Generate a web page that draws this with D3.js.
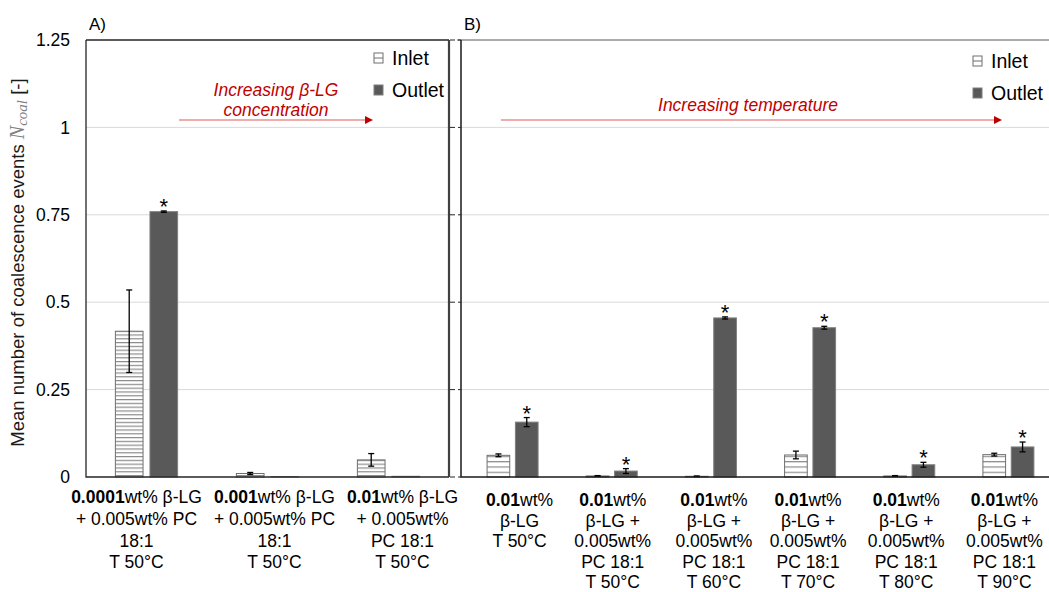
<!DOCTYPE html>
<html>
<head>
<meta charset="utf-8">
<script src="https://d3js.org/d3.v7.min.js"></script>
<style>
  html, body { margin: 0; padding: 0; background: #fff; }
  svg { display: block; font-family: "Liberation Sans", Arial, sans-serif; }
</style>
</head>
<body>
<svg id="chart" width="1049" height="592"></svg>
<script>
// ---- data ----
var series = ["Inlet", "Outlet"];

// panel A: increasing beta-LG concentration
var boldA = ["0.0001", "0.001", "0.01"];
var labelsA = [
  ["wt% β-LG", "+ 0.005wt% PC", "18:1", "T 50°C"],
  ["wt% β-LG", "+ 0.005wt% PC", "18:1", "T 50°C"],
  ["wt% β-LG", "+ 0.005wt%", "PC 18:1", "T 50°C"]
];
var inletA = [0.417, 0.010, 0.049];
var inletErrA = [0.118, 0.003, 0.018];
var outletA = [0.759, 0.001, 0.002];
var outletErrA = [0.002, 0, 0];
var starA = [true, false, false];

// panel B: increasing temperature
var boldB = ["0.01", "0.01", "0.01", "0.01", "0.01", "0.01"];
var labelsB = [
  ["wt%", "β-LG", "T 50°C"],
  ["wt%", "β-LG +", "0.005wt%", "PC 18:1", "T 50°C"],
  ["wt%", "β-LG +", "0.005wt%", "PC 18:1", "T 60°C"],
  ["wt%", "β-LG +", "0.005wt%", "PC 18:1", "T 70°C"],
  ["wt%", "β-LG +", "0.005wt%", "PC 18:1", "T 80°C"],
  ["wt%", "β-LG +", "0.005wt%", "PC 18:1", "T 90°C"]
];
var inletB = [0.062, 0.003, 0.002, 0.063, 0.003, 0.064];
var inletErrB = [0.004, 0.001, 0.001, 0.011, 0.001, 0.004];
var outletB = [0.157, 0.017, 0.455, 0.427, 0.035, 0.086];
var outletErrB = [0.013, 0.007, 0.003, 0.004, 0.007, 0.014];
var starB = [true, true, true, true, true, true];

var yTicks = [0, 0.25, 0.5, 0.75, 1, 1.25];

// ---- drawing ----
var svg = d3.select("#chart");
var plotTop = 40, plotBottom = 477;
var y = d3.scaleLinear().domain([0, 1.25]).range([plotBottom, plotTop]);
var outletFill = "#595959", red = "#c00000";

var defs = svg.append("defs");
function stripes(id, h) {
  var p = defs.append("pattern").attr("id", id)
    .attr("patternUnits", "userSpaceOnUse").attr("width", 10).attr("height", h);
  p.append("rect").attr("width", 10).attr("height", h).attr("fill", "#fff");
  p.append("line").attr("x1", 0).attr("x2", 10).attr("y1", 0.6).attr("y2", 0.6)
    .attr("stroke", "#8c8c8c").attr("stroke-width", 1.2);
}
stripes("hatchA", 3.8);
stripes("hatchB", 5.3);

function panel(opt) {
  var g = svg.append("g");
  var idx = d3.range(opt.inlet.length);
  var x = d3.scaleBand().domain(idx).range([opt.x0, opt.x1]);
  var xs = d3.scaleBand().domain(series).range([0, x.bandwidth()])
    .paddingInner(0.2).paddingOuter(0.85);

  // gridlines
  g.selectAll("line.grid").data(yTicks.filter(function(d) { return d > 0 && d < 1.25; }))
    .enter().append("line").attr("class", "grid")
    .attr("x1", opt.gx0).attr("x2", opt.x1)
    .attr("y1", function(d) { return y(d); }).attr("y2", function(d) { return y(d); })
    .attr("stroke", "#d9d9d9").attr("stroke-width", 1);

  var flat = [];
  idx.forEach(function(i) {
    flat.push({ i: i, s: "Inlet", v: opt.inlet[i], e: opt.inletErr[i], star: false });
    flat.push({ i: i, s: "Outlet", v: opt.outlet[i], e: opt.outletErr[i], star: opt.star[i] });
  });
  function cx(d) { return x(d.i) + xs(d.s) + xs.bandwidth() / 2; }

  g.selectAll("rect.bar").data(flat).enter().append("rect").attr("class", "bar")
    .attr("x", function(d) { return x(d.i) + xs(d.s); })
    .attr("width", xs.bandwidth())
    .attr("y", function(d) { return y(d.v); })
    .attr("height", function(d) { return y(0) - y(d.v); })
    .attr("fill", function(d) { return d.s === "Inlet" ? "url(#" + opt.hatch + ")" : outletFill; })
    .attr("stroke", function(d) { return d.s === "Inlet" ? "#6f6f6f" : "#7f7f7f"; })
    .attr("stroke-width", 1);

  // error bars
  var eb = g.selectAll("g.err").data(flat.filter(function(d) { return d.e > 0; }))
    .enter().append("g").attr("class", "err")
    .attr("stroke", "#000").attr("stroke-width", 1.3);
  eb.append("line")
    .attr("x1", cx).attr("x2", cx)
    .attr("y1", function(d) { return y(d.v - d.e); })
    .attr("y2", function(d) { return y(d.v + d.e); });
  [-1, 1].forEach(function(sign) {
    eb.append("line")
      .attr("x1", function(d) { return cx(d) - 3; })
      .attr("x2", function(d) { return cx(d) + 3; })
      .attr("y1", function(d) { return y(d.v + sign * d.e); })
      .attr("y2", function(d) { return y(d.v + sign * d.e); });
  });

  // significance stars
  g.selectAll("text.star").data(flat.filter(function(d) { return d.star; }))
    .enter().append("text").attr("class", "star")
    .attr("x", cx)
    .attr("y", function(d) { return y(d.v + d.e) + 3; })
    .attr("text-anchor", "middle").attr("font-size", 22).attr("fill", "#000")
    .text("*");

  // category labels (text boxes sit slightly off the bar groups, as in the source)
  var lab = g.selectAll("text.cat").data(idx).enter().append("text").attr("class", "cat")
    .attr("text-anchor", "middle").attr("font-size", 17.5).attr("fill", "#000");
  lab.each(function(i) {
    var t = d3.select(this);
    var mx = x(i) + x.bandwidth() / 2 + opt.labelShift[i];
    opt.labels[i].forEach(function(line, k) {
      var ts = t.append("tspan").attr("x", mx).attr("y", opt.labelY + k * opt.lineH);
      if (k === 0) {
        ts.append("tspan").attr("font-weight", "bold").text(opt.bold[i]);
        ts.append("tspan").text(line);
      } else {
        ts.text(line);
      }
    });
  });

  // legend
  var lg = g.append("g").attr("font-size", 19.5).attr("fill", "#000");
  lg.append("rect").attr("x", opt.legX).attr("y", opt.legY - 5).attr("width", 9).attr("height", 10)
    .attr("fill", "#fff").attr("stroke", "#6f6f6f");
  lg.append("line").attr("x1", opt.legX).attr("x2", opt.legX + 9)
    .attr("y1", opt.legY).attr("y2", opt.legY).attr("stroke", "#6f6f6f");
  lg.append("text").attr("x", opt.legX + 18).attr("y", opt.legY + 7).text("Inlet");
  lg.append("rect").attr("x", opt.legX).attr("y", opt.legY + 27).attr("width", 9).attr("height", 10)
    .attr("fill", outletFill).attr("stroke", "#7f7f7f");
  lg.append("text").attr("x", opt.legX + 18).attr("y", opt.legY + 39).text("Outlet");

  // trend arrow
  g.append("line").attr("x1", opt.arrow[0]).attr("x2", opt.arrow[1] - 6)
    .attr("y1", 120).attr("y2", 120).attr("stroke", "#ee8f8f").attr("stroke-width", 1.6);
  g.append("path")
    .attr("d", "M" + (opt.arrow[1] - 8) + ",116 L" + opt.arrow[1] + ",120 L" + (opt.arrow[1] - 8) + ",124 Z")
    .attr("fill", red);
  var at = g.append("text").attr("text-anchor", "middle").attr("font-style", "italic")
    .attr("font-size", 17.5).attr("fill", red);
  opt.arrowText.forEach(function(s, k) {
    at.append("tspan").attr("x", opt.arrowTextX)
      .attr("y", opt.arrowTextY + k * 20).text(s);
  });

  // panel letter
  svg.append("text").attr("x", opt.gx0 + 3).attr("y", 30).attr("font-size", 17)
    .attr("fill", "#000").text(opt.letter);

  return { x: x, g: g };
}

panel({
  gx0: 86, x0: 86, x1: 449, inlet: inletA, inletErr: inletErrA, outlet: outletA, outletErr: outletErrA,
  star: starA, labels: labelsA, bold: boldA, hatch: "hatchA", labelY: 503, lineH: 21.8,
  labelShift: [-10, 7, 14],
  legX: 374, legY: 58, arrow: [179, 373], arrowText: ["Increasing β-LG", "concentration"],
  arrowTextX: 276, arrowTextY: 96, letter: "A)"
});
panel({
  gx0: 461, x0: 463, x1: 1058, inlet: inletB, inletErr: inletErrB, outlet: outletB, outletErr: outletErrB,
  star: starB, labels: labelsB, bold: boldB, hatch: "hatchB", labelY: 506, lineH: 20.6,
  labelShift: [7, 1, 3, -2, -3, -4],
  legX: 973, legY: 61, arrow: [501, 1002], arrowText: ["Increasing temperature"],
  arrowTextX: 748, arrowTextY: 111, letter: "B)"
});

// axes and frames
var yAxis = d3.axisLeft(y).tickValues(yTicks).tickSize(0).tickPadding(16)
  .tickFormat(function(d) { return String(d); });
var ya = svg.append("g").attr("transform", "translate(86,0)").call(yAxis);
ya.select(".domain").remove();
ya.selectAll("text").attr("font-size", 17.5).attr("fill", "#000")
  .attr("font-family", "Liberation Sans, Arial, sans-serif");

// panel A frame
svg.append("path").attr("d", "M86,40 H449 M86,40 V477 H449")
  .attr("fill", "none").attr("stroke", "#262626").attr("stroke-width", 1.3);
svg.append("line").attr("x1", 449).attr("x2", 449).attr("y1", 40).attr("y2", 477)
  .attr("stroke", "#404040").attr("stroke-width", 2.2);
// panel B frame
svg.append("line").attr("x1", 457).attr("x2", 1049).attr("y1", 40).attr("y2", 40)
  .attr("stroke", "#595959").attr("stroke-width", 1);
svg.append("path").attr("d", "M461,40 V477 H1049")
  .attr("fill", "none").attr("stroke", "#1a1a1a").attr("stroke-width", 1.5);
// little ticks between the panels
svg.selectAll("line.tk").data(yTicks).enter().append("line").attr("class", "tk")
  .attr("x1", 450).attr("x2", 461)
  .attr("y1", function(d) { return y(d); }).attr("y2", function(d) { return y(d); })
  .attr("stroke", "#262626").attr("stroke-width", 1).attr("stroke-dasharray", "5,3,3");

// y axis title
var yt = svg.append("text")
  .attr("transform", "translate(24," + ((plotTop + plotBottom) / 2 + 4) + ") rotate(-90)")
  .attr("text-anchor", "middle").attr("font-size", 18.5).attr("fill", "#1a1a1a");
yt.append("tspan").text("Mean number of coalescence events ");
yt.append("tspan").attr("font-family", "Liberation Serif, serif").attr("font-style", "italic")
  .attr("fill", "#7f7f7f").attr("font-size", 20).text("N");
yt.append("tspan").attr("font-family", "Liberation Serif, serif").attr("font-style", "italic")
  .attr("fill", "#7f7f7f").attr("font-size", 15).attr("dy", 3).text("coal");
yt.append("tspan").attr("dy", -3).text(" [-]");
</script>
</body>
</html>
